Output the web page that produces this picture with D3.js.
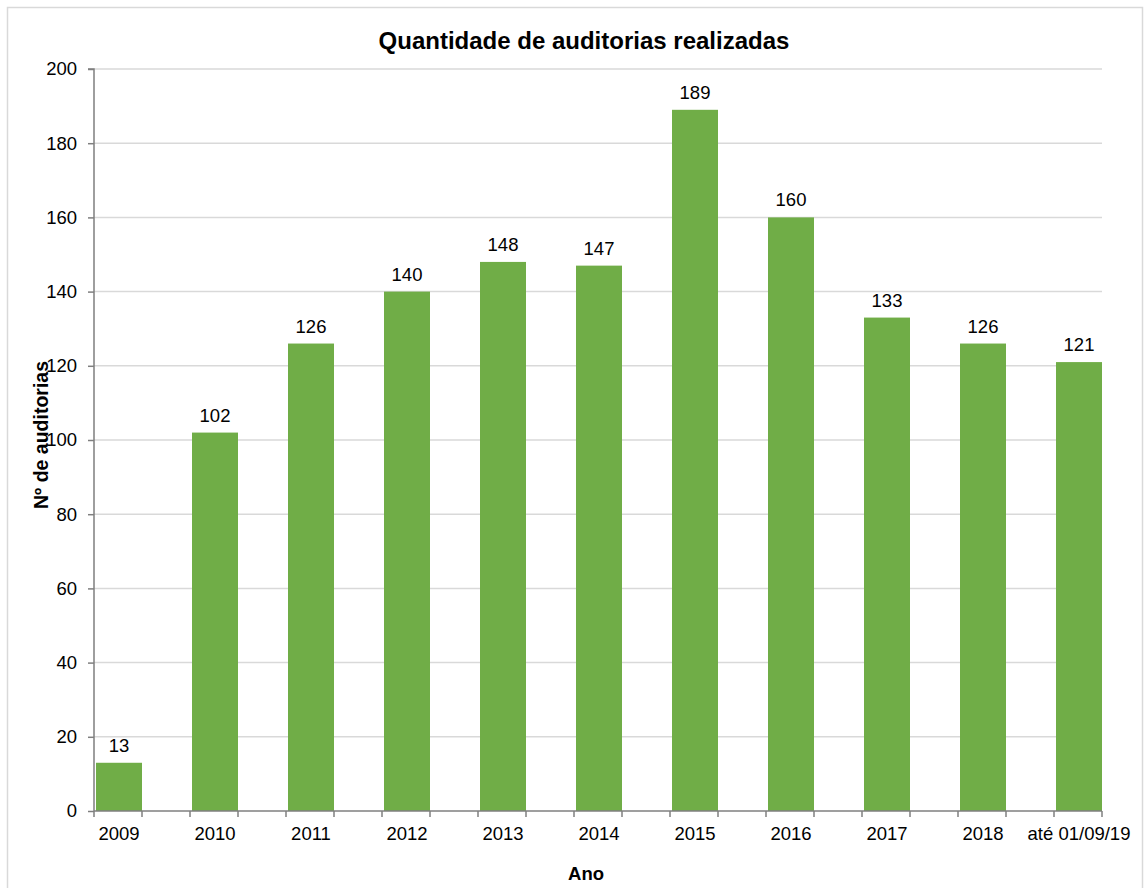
<!DOCTYPE html>
<html>
<head>
<meta charset="utf-8">
<script src="https://cdn.jsdelivr.net/npm/d3@7"></script>
<style>
  body { margin: 0; background: #fff; }
  svg { display: block; font-family: "Liberation Sans", Arial, sans-serif; }
</style>
</head>
<body>
<svg id="chart" width="1146" height="888"></svg>
<script>
// chart data
const categories = ["2009", "2010", "2011", "2012", "2013", "2014", "2015", "2016", "2017", "2018", "até 01/09/19"];
const audits = [13, 102, 126, 140, 148, 147, 189, 160, 133, 126, 121];
const yTicks = [0, 20, 40, 60, 80, 100, 120, 140, 160, 180, 200];

const svg = d3.select("#chart");
const plotLeft = 94, plotRight = 1102, plotTop = 69, plotBottom = 811;
const labelSize = 18.5;

// outer frame
svg.append("rect")
    .attr("x", 7.5).attr("y", 7.5)
    .attr("width", 1135).attr("height", 900)
    .attr("fill", "none")
    .attr("stroke", "#d9d9d9")
    .attr("stroke-width", 1.5);

const x = d3.scaleBand()
    .domain(categories)
    .range([plotLeft, plotRight])
    .paddingInner(0.5)
    .paddingOuter(0);

const y = d3.scaleLinear().domain([0, 200]).range([plotBottom, plotTop]);

// gridlines
svg.append("g")
    .selectAll("line")
    .data(yTicks.filter(d => d > 0))
    .join("line")
    .attr("x1", plotLeft).attr("x2", plotRight)
    .attr("y1", d => y(d)).attr("y2", d => y(d))
    .attr("stroke", "#d9d9d9")
    .attr("stroke-width", 1.5);

// bars
svg.append("g")
    .selectAll("rect")
    .data(audits)
    .join("rect")
    .attr("x", (d, i) => x(categories[i]) + 2)
    .attr("width", x.bandwidth() - 2)
    .attr("y", d => y(d))
    .attr("height", d => y(0) - y(d))
    .attr("fill", "#70ad47");

// value labels
svg.append("g")
    .selectAll("text")
    .data(audits)
    .join("text")
    .attr("x", (d, i) => x(categories[i]) + x.bandwidth() / 2 + 1)
    .attr("y", d => y(d) - 11)
    .attr("text-anchor", "middle")
    .attr("font-size", labelSize)
    .attr("fill", "#000")
    .text(d => d);

// y axis
const yAxis = d3.axisLeft(y).tickValues(yTicks).tickSize(6).tickPadding(11);
const gy = svg.append("g").attr("transform", `translate(${plotLeft},0)`).call(yAxis);
gy.select(".domain").attr("stroke", "#7f7f7f").attr("stroke-width", 1.5).attr("d", `M-6,${plotTop}H0V${plotBottom}`);
gy.selectAll(".tick line").attr("stroke", "#7f7f7f").attr("stroke-width", 1.5);
gy.selectAll(".tick text")
    .attr("font-size", labelSize)
    .attr("font-family", "Liberation Sans, Arial, sans-serif")
    .attr("fill", "#000");

// x axis: ticks at both edges of each bar
const gx = svg.append("g");
gx.append("line")
    .attr("x1", plotLeft).attr("x2", plotRight)
    .attr("y1", plotBottom).attr("y2", plotBottom)
    .attr("stroke", "#7f7f7f")
    .attr("stroke-width", 1.5);
const edges = categories.flatMap(c => [x(c), x(c) + x.bandwidth()]);
gx.selectAll("line.tick")
    .data(edges)
    .join("line")
    .attr("class", "tick")
    .attr("x1", d => d).attr("x2", d => d)
    .attr("y1", plotBottom).attr("y2", plotBottom + 6)
    .attr("stroke", "#7f7f7f")
    .attr("stroke-width", 1.5);
gx.selectAll("text")
    .data(categories)
    .join("text")
    .attr("x", d => x(d) + x.bandwidth() / 2 + 1)
    .attr("y", plotBottom + 29)
    .attr("text-anchor", "middle")
    .attr("font-size", labelSize)
    .attr("fill", "#000")
    .text(d => d);

// title and axis titles
svg.append("text")
    .attr("x", 584).attr("y", 49)
    .attr("text-anchor", "middle")
    .attr("font-size", 24)
    .attr("font-weight", "bold")
    .text("Quantidade de auditorias realizadas");

svg.append("text")
    .attr("x", 586).attr("y", 880)
    .attr("text-anchor", "middle")
    .attr("font-size", 18.5)
    .attr("font-weight", "bold")
    .text("Ano");

svg.append("text")
    .attr("transform", "translate(48,435) rotate(-90)")
    .attr("text-anchor", "middle")
    .attr("font-size", 19.5)
    .attr("font-weight", "bold")
    .text("Nº de auditorias");
</script>
</body>
</html>
